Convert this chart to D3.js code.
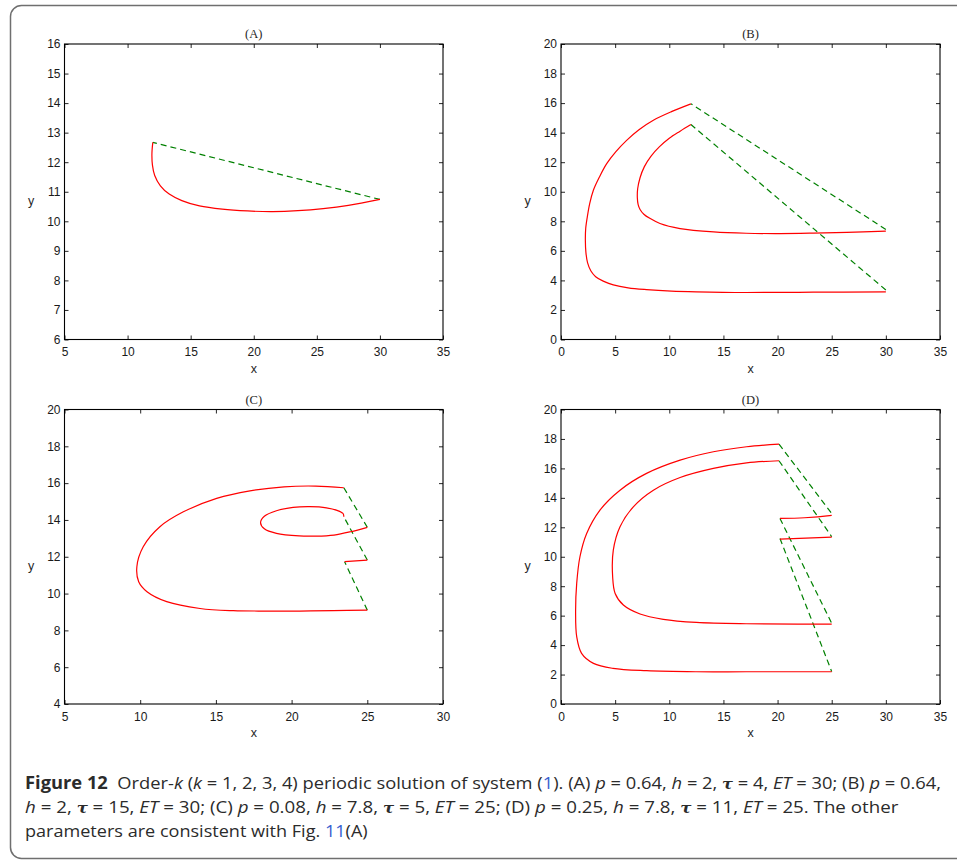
<!DOCTYPE html>
<html>
<head>
<meta charset="utf-8">
<script src="https://cdn.jsdelivr.net/npm/d3@7"></script>
<style>body{margin:0;background:#fff}</style>
</head>
<body>
<script>
// ── Datos ───────────────────────────────────────────────────────────────
// (A) orden 1
const aRed  = [[12.0,12.67],[11.93,12.3],[11.97,11.9],[12.15,11.55],[12.6,11.2],[13.3,10.92],[14.3,10.7],[15.7,10.52],[17.5,10.41],[19.5,10.35],[21.5,10.33],[23.5,10.36],[25.5,10.43],[27.5,10.54],[30,10.74]];
const aJump = [[30,10.74],[12.0,12.67]];

// (B) orden 2
const bOuter = [[12,15.95],[10.2,15.42],[8.53,14.84],[7.2,14.2],[6.06,13.48],[5.05,12.7],[4.22,11.9],[3.55,11.0],[2.99,10.1],[2.65,9.2],[2.43,8.3],[2.28,7.5],[2.25,6.72],[2.3,5.9],[2.45,5.2],[2.75,4.65],[3.2,4.25],[3.9,3.95],[4.83,3.7],[6.2,3.5],[7.9,3.38],[10.2,3.28],[12.5,3.23],[17.1,3.18],[23.3,3.2],[30,3.22]];
const bInner = [[12,14.55],[11.0,14.1],[10.0,13.62],[9.1,13.05],[8.3,12.4],[7.7,11.7],[7.3,10.95],[7.08,10.2],[7.05,9.6],[7.12,9.15],[7.3,8.8],[7.65,8.48],[8.2,8.2],[9.14,7.85],[11.0,7.51],[14.1,7.28],[17.1,7.19],[20.2,7.17],[23.3,7.2],[26.4,7.25],[30,7.33]];
const bJumps = [[[30,7.45],[12,15.95]], [[30,3.35],[12,14.55]]];

// (C) orden 3
const cOuter = [[23.45,15.75],[21.6,15.84],[19.5,15.8],[17.25,15.58],[15.05,15.17],[12.85,14.44],[11.3,13.63],[10.2,12.54],[9.78,11.46],[9.9,10.64],[10.45,10.1],[11.75,9.56],[13.95,9.19],[16.15,9.07],[18.35,9.05],[20.55,9.05],[22.75,9.07],[25,9.1]];
const cLoop  = [[23.45,14.17],[23.4,14.35],[23.0,14.52],[22.3,14.66],[21.2,14.72],[20.1,14.68],[19.0,14.5],[18.2,14.2],[17.95,13.85],[18.2,13.52],[19.0,13.27],[20.5,13.13],[21.6,13.12],[22.8,13.18],[23.9,13.36],[25.0,13.6]];
const cStep  = [[23.5,11.73],[25,11.82]];
const cJumps = [[[25,9.1],[23.5,11.73]], [[25,11.82],[23.45,14.17]], [[25,13.6],[23.45,15.75]]];

// (D) orden 4
const dOuter = [[20.13,17.65],[17.14,17.47],[14.07,17.13],[11.0,16.56],[7.9,15.66],[5.45,14.52],[3.6,13.17],[2.37,11.58],[1.75,10.0],[1.45,8.19],[1.35,6.38],[1.45,4.57],[1.9,3.44],[3.0,2.76],[4.8,2.42],[7.9,2.26],[12.5,2.19],[17.1,2.19],[25,2.19]];
const dInner = [[20.13,16.52],[17.14,16.38],[14.07,16.0],[11.0,15.38],[8.53,14.52],[6.68,13.39],[5.45,12.04],[4.83,10.45],[4.77,8.64],[5.0,7.51],[5.76,6.72],[7.3,6.11],[9.45,5.75],[12.5,5.54],[17.1,5.45],[25,5.43]];
const dStepHi = [[20.22,12.6],[22.5,12.65],[25,12.81]];
const dStepLo = [[20.22,11.2],[25,11.33]];
const dJumps = [[[20.13,17.65],[25,12.94]], [[20.13,16.52],[25,11.36]], [[20.22,12.6],[25,5.48]], [[20.22,11.24],[25,2.2]]];

// Ticks
const xTicksA = [5,10,15,20,25,30,35];
const yTicksA = [6,7,8,9,10,11,12,13,14,15,16];
const xTicksB = [0,5,10,15,20,25,30,35];
const yTicksB = [0,2,4,6,8,10,12,14,16,18,20];
const xTicksC = [5,10,15,20,25,30];
const yTicksC = [4,6,8,10,12,14,16,18,20];

// Leyenda de la figura (texto, estilo): b=negrita, i=cursiva, t=tau, l=enlace
const cap1 = [["Figure 12","b"],["  Order-",""],["k","i"],[" (",""],["k","i"],[" = 1, 2, 3, 4) periodic solution of system (",""],["1","l"],["). (A) ",""],["p","i"],[" = 0.64, ",""],["h","i"],[" = 2, ",""],["τ","t"],[" = 4, ",""],["ET","i"],[" = 30; (B) ",""],["p","i"],[" = 0.64,",""]];
const cap2 = [["h","i"],[" = 2, ",""],["τ","t"],[" = 15, ",""],["ET","i"],[" = 30; (C) ",""],["p","i"],[" = 0.08, ",""],["h","i"],[" = 7.8, ",""],["τ","t"],[" = 5, ",""],["ET","i"],[" = 25; (D) ",""],["p","i"],[" = 0.25, ",""],["h","i"],[" = 7.8, ",""],["τ","t"],[" = 11, ",""],["ET","i"],[" = 25. The other",""]];
const cap3 = [["parameters are consistent with Fig. ",""],["11","l"],["(A)",""]];

// ── Layout ──────────────────────────────────────────────────────────────
const W = 957, H = 861;
const panels = [
  {title:"(A)", box:[64.5,44,443,339.5],  xDom:[5,35], yDom:[6,16],  xt:xTicksA, yt:yTicksA, red:[aRed], dash:[aJump]},
  {title:"(B)", box:[561,44,940,339.5],   xDom:[0,35], yDom:[0,20],  xt:xTicksB, yt:yTicksB, red:[bOuter,bInner], dash:bJumps},
  {title:"(C)", box:[64.5,409.5,443,704], xDom:[5,30], yDom:[4,20],  xt:xTicksC, yt:yTicksC, red:[cOuter,cLoop,cStep], dash:cJumps},
  {title:"(D)", box:[561,409.5,940,704],  xDom:[0,35], yDom:[0,20],  xt:xTicksB, yt:yTicksB, red:[dOuter,dInner,dStepHi,dStepLo], dash:dJumps},
];

const svg = d3.select("body").append("svg")
  .attr("width", W).attr("height", H).style("display","block");

// Marco redondeado
svg.append("rect").attr("x",10.5).attr("y",5.5).attr("width",990).attr("height",853)
  .attr("rx",11).attr("fill","none").attr("stroke","#6f6f6f").attr("stroke-width",1.5);

const sans = "'Liberation Sans', Arial, sans-serif";

panels.forEach(p => {
  const [l,t,r,b] = p.box;
  const x = d3.scaleLinear().domain(p.xDom).range([l,r]);
  const y = d3.scaleLinear().domain(p.yDom).range([b,t]);
  const g = svg.append("g");

  const styleAxis = ax => {
    ax.attr("font-size",12).attr("font-family",sans);
    ax.select(".domain").remove();
    ax.selectAll(".tick line").attr("stroke","#262626").attr("stroke-width",1);
    ax.selectAll("text").attr("fill","#1a1a1a");
  };

  g.append("g").attr("transform",`translate(0,${b})`)
    .call(d3.axisBottom(x).tickValues(p.xt).tickSize(-4).tickPadding(8)).call(styleAxis);
  g.append("g").attr("transform",`translate(0,${t})`)
    .call(d3.axisTop(x).tickValues(p.xt).tickSize(-4).tickFormat("")).call(styleAxis);
  g.append("g").attr("transform",`translate(${l},0)`)
    .call(d3.axisLeft(y).tickValues(p.yt).tickSize(-4).tickPadding(4)).call(styleAxis);
  g.append("g").attr("transform",`translate(${r},0)`)
    .call(d3.axisRight(y).tickValues(p.yt).tickSize(-4).tickFormat("")).call(styleAxis);

  g.append("rect").attr("x",l).attr("y",t).attr("width",r-l).attr("height",b-t)
    .attr("fill","none").attr("stroke","#000").attr("stroke-width",1.1);

  const line = d3.line().x(d => x(d[0])).y(d => y(d[1])).curve(d3.curveCatmullRom.alpha(0.5));

  g.selectAll("path.jump").data(p.dash).join("path").attr("class","jump")
    .attr("d", d3.line().x(d => x(d[0])).y(d => y(d[1])))
    .attr("fill","none").attr("stroke","#008000").attr("stroke-width",1.2)
    .attr("stroke-dasharray","6,4");

  g.selectAll("path.orbit").data(p.red).join("path").attr("class","orbit")
    .attr("d", line)
    .attr("fill","none").attr("stroke","#ff0000").attr("stroke-width",1.2);

  g.append("text").attr("x",(l+r)/2).attr("y",t-6).attr("text-anchor","middle")
    .attr("font-family","'Liberation Serif', 'Times New Roman', serif").attr("font-size",12.5)
    .attr("fill","#262626").text(p.title);
  g.append("text").attr("x",(l+r)/2).attr("y",b+33).attr("text-anchor","middle")
    .attr("font-family",sans).attr("font-size",12.5).attr("fill","#262626").text("x");
  g.append("text").attr("x",l-33.5).attr("y",(t+b)/2+13.5).attr("text-anchor","middle")
    .attr("font-family",sans).attr("font-size",12.5).attr("fill","#262626").text("y");
});

// ── Leyenda ─────────────────────────────────────────────────────────────
const capLines = [
  {segs:cap1, base:789, width:917},
  {segs:cap2, base:813, width:874},
  {segs:cap3, base:837, width:343},
];
capLines.forEach(cl => {
  const txt = svg.append("text")
    .attr("font-family","'Open Sans', sans-serif").attr("font-size",17)
    .attr("fill","#2b2b2b").style("white-space","pre");
  cl.segs.forEach(([s,st]) => {
    const ts = txt.append("tspan").text(s);
    if (st === "b") ts.attr("font-weight","bold");
    if (st === "i") ts.attr("font-style","italic");
    if (st === "l") ts.attr("fill","#3a5fd0");
    if (st === "t") ts.attr("font-family","'DejaVu Serif', serif").attr("font-weight","bold").attr("font-style","italic").attr("font-size",15);
  });
  const w = txt.node().getComputedTextLength();
  txt.attr("transform",`translate(25,${cl.base}) scale(${cl.width / w},1)`);
});
</script>
</body>
</html>
